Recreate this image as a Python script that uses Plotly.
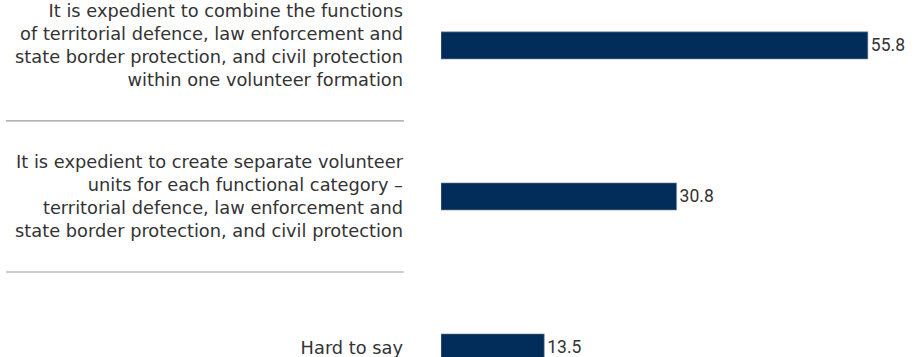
import plotly.graph_objects as go

categories = [
    "It is expedient to combine the functions<br>of territorial defence, law enforcement and<br>state border protection, and civil protection<br>within one volunteer formation",
    "It is expedient to create separate volunteer<br>units for each functional category –<br>territorial defence, law enforcement and<br>state border protection, and civil protection",
    "Hard to say",
]
values = [55.8, 30.8, 13.5]

BAR_COLOR = "#022d5a"
TEXT_COLOR = "#333333"

fig = go.Figure(
    go.Bar(
        y=list(range(len(categories))),
        x=values,
        orientation="h",
        width=0.18,
        marker=dict(color=BAR_COLOR, line=dict(color="#8a95a5", width=0.6)),
        text=[f"{v:.1f}" for v in values],
        textposition="outside",
        textfont=dict(family="Roboto, sans-serif", size=17.5, color=TEXT_COLOR),
        cliponaxis=False,
        hoverinfo="skip",
    )
)

# separator lines between categories
for b in [0.5, 1.5]:
    fig.add_shape(
        type="line", xref="paper", yref="y",
        x0=-0.948, x1=-0.081, y0=b, y1=b,
        line=dict(color="#9a9a9a", width=1.2),
    )

fig.update_layout(
    width=916, height=357,
    margin=dict(l=441, r=16, t=0, b=0),
    paper_bgcolor="white", plot_bgcolor="white",
    showlegend=False,
    xaxis=dict(range=[0, 60], visible=False),
    yaxis=dict(
        range=[2.063, -0.301],
        tickmode="array",
        tickvals=list(range(len(categories))),
        ticktext=categories,
        showgrid=False, zeroline=False, showline=False,
        ticks="", ticklabelstandoff=37, ticklabeloverflow="allow",
        tickfont=dict(family="DejaVu Sans, sans-serif", size=17.8, color=TEXT_COLOR),
    ),
)

fig.write_html(
    "out.html",
    config={"displayModeBar": False},
    post_script="document.body.style.margin='0';document.body.style.overflow='hidden';",
)
